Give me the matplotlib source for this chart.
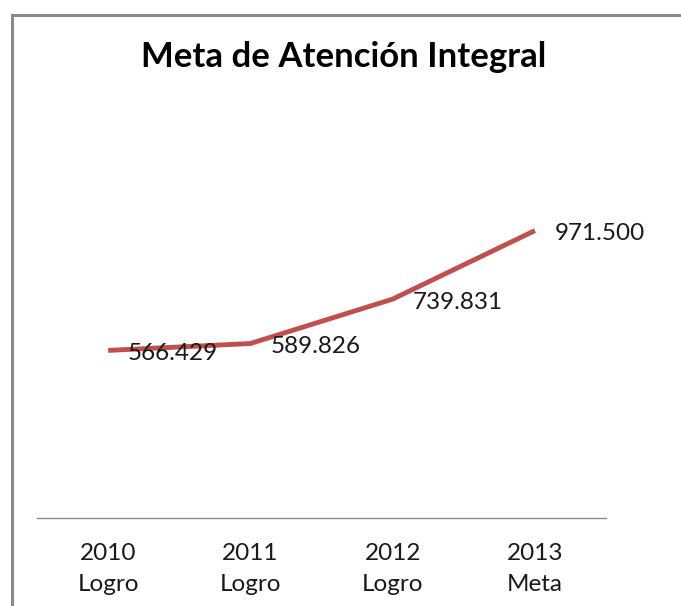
import matplotlib.pyplot as plt
from matplotlib.lines import Line2D

# Data
years = ['2010', '2011', '2012', '2013']
kinds = ['Logro', 'Logro', 'Logro', 'Meta']
values = [566429, 589826, 739831, 971500]
value_labels = ['566.429', '589.826', '739.831', '971.500']

W, H = 681, 606
fig = plt.figure(figsize=(W / 100, H / 100), dpi=100)

# axes placed in pixel terms: x 37..606, y 163..518 (from top)
ax = fig.add_axes([37 / W, (H - 518) / H, (606 - 37) / W, (518 - 163) / H])

x = list(range(len(years)))
ax.plot(x, values, color='#C0504D', lw=3.5, solid_capstyle='butt', solid_joinstyle='round')

for xi, v, lab in zip(x, values, value_labels):
    ax.annotate(lab, (xi, v), xytext=(20, -3), textcoords='offset pixels',
                ha='left', va='center', fontsize=17.5, family='Lato', color='#1a1a1a')

ax.set_xlim(-0.5, 3.5)
ax.set_ylim(0, 1200000)
ax.set_yticks([])
ax.set_xticks(x)
ax.set_xticklabels([f'{y}\n{k}' for y, k in zip(years, kinds)], fontsize=17.5,
                   family='Lato', color='#1a1a1a', linespacing=1.6)
ax.tick_params(axis='x', length=0, pad=18)
for s in ['top', 'right', 'left']:
    ax.spines[s].set_visible(False)
ax.spines['bottom'].set_color('#8c8c8c')
ax.spines['bottom'].set_linewidth(1)

fig.text(344 / W, 1 - 57 / H, 'Meta de Atención Integral', ha='center', va='center',
         fontsize=25, fontweight='bold', family='Lato', color='black')

# chart border (top and left visible)
fig.add_artist(Line2D([11.5 / W, 1], [1 - 15 / H, 1 - 15 / H], color='#8a8a8a', lw=2.2))
fig.add_artist(Line2D([11.5 / W, 11.5 / W], [0, 1 - 15 / H], color='#8a8a8a', lw=2.2))

fig.savefig('out.png', dpi=100)
